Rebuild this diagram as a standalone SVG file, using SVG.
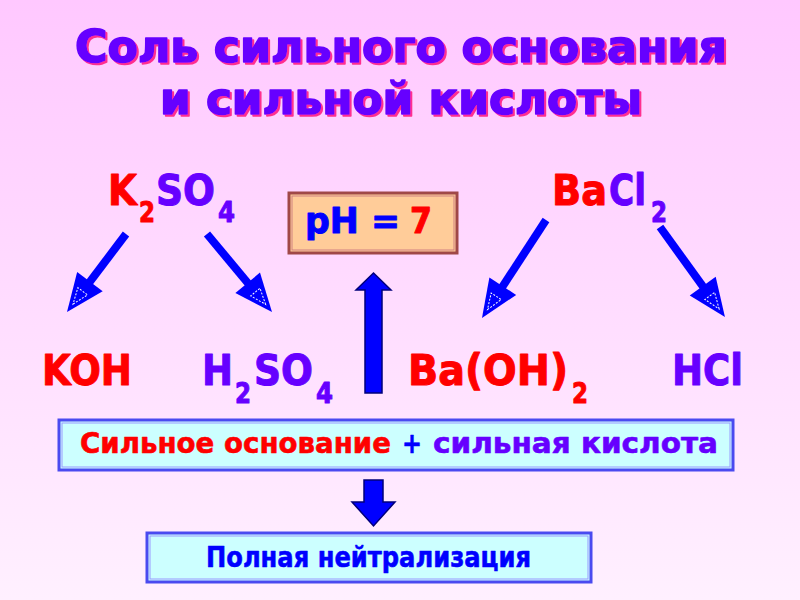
<svg xmlns="http://www.w3.org/2000/svg" width="800" height="600" viewBox="0 0 800 600">
<defs>
  <linearGradient id="bg" x1="0" y1="0" x2="0" y2="1">
    <stop offset="0" stop-color="#FFC8FF"/>
    <stop offset="1" stop-color="#FFF0FF"/>
  </linearGradient>
  <filter id="shadow" x="-5%" y="-20%" width="110%" height="140%">
    <feOffset in="SourceAlpha" dx="2" dy="2" result="off"/>
    <feFlood flood-color="#FF2F8F"/>
    <feComposite in2="off" operator="in" result="sh"/>
    <feMerge><feMergeNode in="sh"/><feMergeNode in="SourceGraphic"/></feMerge>
  </filter>
  <marker id="head" markerUnits="userSpaceOnUse" orient="auto" refX="0" refY="0" markerWidth="80" markerHeight="80" viewBox="-40 -40 80 80" overflow="visible">
    <path d="M30,0 L-8,-16 L-8,16 Z" fill="#0000FF"/>
    <path d="M20,0 L4,-6 L4,6 Z" fill="none" stroke="#FFFFFF" stroke-width="1" stroke-dasharray="2,1.5"/>
  </marker>
</defs>
<style>
  text { font-family: "DejaVu Sans", Verdana, sans-serif; font-weight: bold; stroke-width: 1; stroke-linejoin: round; }
  .title { font-size: 44px; fill: #6600FF; stroke: #6600FF; stroke-width: 1.6; }
  .big { font-size: 42px; }
  .sub { font-size: 28px; }
  .red { fill: #FF0000; stroke: #FF0000; }
  .pur { fill: #6600FF; stroke: #6600FF; }
  .blu { fill: #0000FF; stroke: #0000FF; }
  .small { stroke-width: 0.6; font-size: 29px; }
  .diag { stroke: #0000FF; stroke-width: 8; fill: none; marker-end: url(#head); }
  .block { fill: #0000FF; stroke: #00007A; stroke-width: 1.5; }
  .cyanbox { fill: #CCFFFF; stroke: #4A4AF0; stroke-width: 3; }
  .cyaninner { fill: none; stroke: #9999FF; stroke-width: 1; }
</style>
<rect x="0" y="0" width="800" height="600" fill="url(#bg)"/>

<g id="title" filter="url(#shadow)">
  <text class="title" x="75" y="62" textLength="652" lengthAdjust="spacingAndGlyphs">Соль сильного основания</text>
  <text class="title" x="160" y="114" textLength="482" lengthAdjust="spacingAndGlyphs">и сильной кислоты</text>
</g>

<g id="k2so4">
  <text class="big red" x="108" y="205" textLength="29" lengthAdjust="spacingAndGlyphs">K</text>
  <text class="sub red" x="139" y="222" textLength="16" lengthAdjust="spacingAndGlyphs">2</text>
  <text class="big pur" x="156" y="205" textLength="59" lengthAdjust="spacingAndGlyphs">SO</text>
  <text class="sub pur" x="218" y="222" textLength="17" lengthAdjust="spacingAndGlyphs">4</text>
</g>

<g id="bacl2">
  <text class="big red" x="552" y="205" textLength="55" lengthAdjust="spacingAndGlyphs">Ba</text>
  <text class="big pur" x="609" y="205" textLength="37" lengthAdjust="spacingAndGlyphs">Cl</text>
  <text class="sub pur" x="651" y="222" textLength="16" lengthAdjust="spacingAndGlyphs">2</text>
</g>

<g id="ph">
  <rect x="289" y="193" width="168" height="60" fill="#FFCC99" stroke="#A04848" stroke-width="3"/>
  <rect x="292" y="196" width="162" height="54" fill="none" stroke="#D08080" stroke-width="1"/>
  <text class="blu" x="305" y="233" font-size="36" textLength="95" lengthAdjust="spacingAndGlyphs">pH =</text>
  <text class="red" x="410" y="233" font-size="36" textLength="22" lengthAdjust="spacingAndGlyphs">7</text>
</g>

<g id="koh">
  <text class="big red" x="42" y="385" textLength="90" lengthAdjust="spacingAndGlyphs">KOH</text>
</g>
<g id="h2so4">
  <text class="big pur" x="202" y="385" textLength="31" lengthAdjust="spacingAndGlyphs">H</text>
  <text class="sub pur" x="235" y="403" textLength="16" lengthAdjust="spacingAndGlyphs">2</text>
  <text class="big pur" x="254" y="385" textLength="59" lengthAdjust="spacingAndGlyphs">SO</text>
  <text class="sub pur" x="316" y="403" textLength="17" lengthAdjust="spacingAndGlyphs">4</text>
</g>
<g id="baoh2">
  <text class="big red" x="408" y="385" textLength="160" lengthAdjust="spacingAndGlyphs">Ba(OH)</text>
  <text class="sub red" x="572" y="403" textLength="16" lengthAdjust="spacingAndGlyphs">2</text>
</g>
<g id="hcl">
  <text class="big pur" x="672" y="385" textLength="71" lengthAdjust="spacingAndGlyphs">HCl</text>
</g>

<g id="box1">
  <rect class="cyanbox" x="59" y="420" width="674" height="50"/>
  <rect class="cyaninner" x="62" y="423" width="668" height="44"/>
  <text class="small red" x="80" y="453" textLength="311" lengthAdjust="spacingAndGlyphs">Сильное основание</text>
  <text class="small blu" x="402" y="453" textLength="20" lengthAdjust="spacingAndGlyphs">+</text>
  <text class="small pur" x="433" y="453" textLength="285" lengthAdjust="spacingAndGlyphs">сильная кислота</text>
</g>

<g id="box2">
  <rect class="cyanbox" x="147" y="533" width="444" height="49"/>
  <rect class="cyaninner" x="150" y="536" width="438" height="43"/>
  <text class="blu small" x="206" y="567" textLength="325" lengthAdjust="spacingAndGlyphs">Полная нейтрализация</text>
</g>

<g id="connectors">
  <line class="diag" x1="126" y1="234" x2="85.1" y2="288.1"/>
  <line class="diag" x1="207" y1="234" x2="252.8" y2="289"/>
  <line class="diag" x1="546" y1="220" x2="498.4" y2="292.9"/>
  <line class="diag" x1="660" y1="227" x2="707.4" y2="292.7"/>
  <path class="block" d="M373.5,273 L391,290 L382,290 L382,393 L365,393 L365,290 L356,290 Z"/>
  <path class="block" d="M364,480 L383,480 L383,502 L395,502 L373.5,526 L352,502 L364,502 Z"/>
</g>
</svg>
